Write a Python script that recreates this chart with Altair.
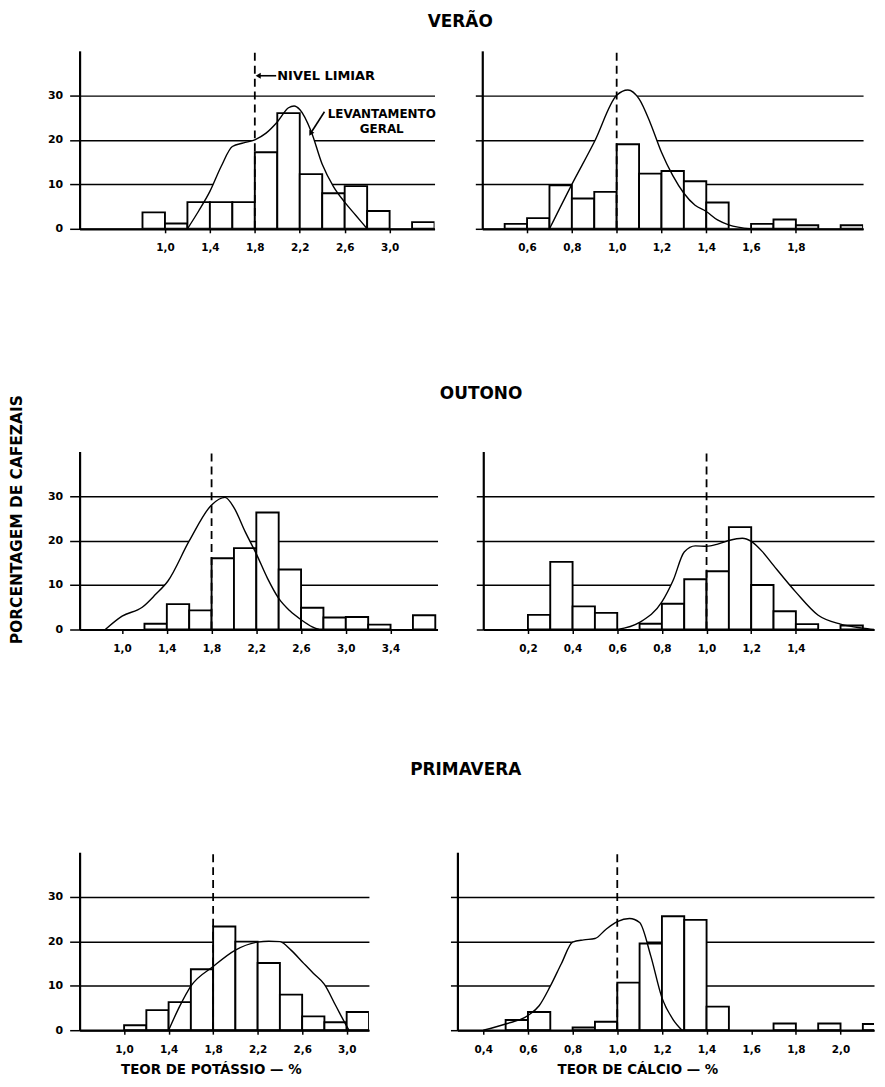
import altair as alt
import pandas as pd

FONT = "DejaVu Sans"

# ---------------- data ----------------
season_titles = ["VERÃO", "OUTONO", "PRIMAVERA"]
y_title = "PORCENTAGEM DE CAFEZAIS"
x_title_k = "TEOR DE POTÁSSIO — %"
x_title_ca = "TEOR DE CÁLCIO — %"
threshold_k = [1.8]
threshold_ca = [1.0]
y_ticks = [0, 10, 20, 30]

# Verão – potássio
v_k_bin = [0.8, 1.0, 1.2, 1.4, 1.6, 1.8, 2.0, 2.2, 2.4, 2.6, 2.8, 3.2]
v_k_pct = [3.7, 1.2, 6.0, 6.0, 6.0, 17.2, 26.0, 12.3, 8.0, 9.6, 4.0, 1.5]
v_k_cx = [1.2, 1.3, 1.4, 1.5, 1.6, 1.7, 1.8, 1.9, 2.0, 2.1, 2.15, 2.2, 2.3, 2.4, 2.5, 2.6, 2.7, 2.8]
v_k_cy = [0, 4, 8.4, 14, 18.5, 19.3, 20, 21.5, 24, 27.2, 27.6, 26.8, 22, 14.5, 9.5, 6, 3, 0]
v_k_ticks = [1.0, 1.4, 1.8, 2.2, 2.6, 3.0]

# Verão – cálcio
v_ca_bin = [0.5, 0.6, 0.7, 0.8, 0.9, 1.0, 1.1, 1.2, 1.3, 1.4, 1.6, 1.7, 1.8, 2.0]
v_ca_pct = [1.1, 2.4, 9.8, 6.8, 8.3, 19.0, 12.4, 13.0, 10.7, 5.9, 1.1, 2.1, 0.8, 0.8]
v_ca_cx = [0.7, 0.8, 0.9, 1.0, 1.05, 1.1, 1.15, 1.2, 1.25, 1.3, 1.35, 1.4, 1.45, 1.5, 1.6]
v_ca_cy = [0, 10, 19.5, 30, 31.2, 29.2, 23.8, 17.2, 12, 8, 5.3, 3.9, 2, 0.9, 0]
v_ca_ticks = [0.6, 0.8, 1.0, 1.2, 1.4, 1.6, 1.8]

# Outono – potássio
o_k_bin = [1.2, 1.4, 1.6, 1.8, 2.0, 2.2, 2.4, 2.6, 2.8, 3.0, 3.2, 3.6]
o_k_pct = [1.3, 5.7, 4.3, 16.0, 18.3, 26.3, 13.5, 4.9, 2.7, 2.8, 1.1, 3.2]
o_k_cx = [0.85, 1.0, 1.18, 1.3, 1.41, 1.6, 1.8, 1.92, 2.0, 2.1, 2.2, 2.3, 2.4, 2.5, 2.6, 2.7, 2.76]
o_k_cy = [0, 3, 5, 7.9, 10.9, 19.9, 28, 29.7, 27.4, 22, 17, 11.5, 7, 4.2, 2.2, 0.6, 0]
o_k_ticks = [1.0, 1.4, 1.8, 2.2, 2.6, 3.0, 3.4]

# Outono – cálcio
o_ca_bin = [0.2, 0.3, 0.4, 0.5, 0.7, 0.8, 0.9, 1.0, 1.1, 1.2, 1.3, 1.4, 1.6]
o_ca_pct = [3.3, 15.2, 5.2, 3.75, 1.3, 5.8, 11.3, 13.1, 23.0, 10.0, 4.1, 1.2, 0.9]
o_ca_cx = [0.6, 0.7, 0.8, 0.85, 0.9, 0.95, 1.0, 1.05, 1.1, 1.16, 1.2, 1.25, 1.3, 1.4, 1.5, 1.6, 1.7, 1.75]
o_ca_cy = [0, 1.6, 6.2, 11, 17.4, 18.8, 18.7, 19.2, 20, 20.5, 19.8, 17.5, 14.4, 8.4, 3.2, 1.2, 0.3, 0]
o_ca_ticks = [0.2, 0.4, 0.6, 0.8, 1.0, 1.2, 1.4]

# Primavera – potássio
p_k_bin = [1.0, 1.2, 1.4, 1.6, 1.8, 2.0, 2.2, 2.4, 2.6, 2.8, 3.0]
p_k_pct = [1.1, 4.5, 6.3, 13.7, 23.3, 19.9, 15.1, 8.0, 3.1, 1.8, 4.1]
p_k_cx = [1.4, 1.5, 1.6, 1.8, 2.0, 2.2, 2.3, 2.4, 2.5, 2.6, 2.7, 2.8, 2.9, 3.0, 3.02]
p_k_cy = [0, 5.4, 9.9, 14.3, 18, 19.8, 20, 19.9, 18, 15.4, 12.8, 10.3, 5.6, 0.9, 0]
p_k_ticks = [1.0, 1.4, 1.8, 2.2, 2.6, 3.0]

# Primavera – cálcio
p_ca_bin = [0.5, 0.6, 0.8, 0.9, 1.0, 1.1, 1.2, 1.3, 1.4, 1.7, 1.9, 2.1]
p_ca_pct = [2.3, 4.1, 0.6, 1.9, 10.7, 19.5, 25.6, 24.8, 5.3, 1.5, 1.5, 1.4]
p_ca_cx = [0.4, 0.5, 0.6, 0.65, 0.7, 0.75, 0.8, 0.85, 0.9, 0.95, 1.0, 1.055, 1.1, 1.15, 1.2, 1.25, 1.29]
p_ca_cy = [0, 1.4, 3.3, 5.5, 9.9, 15, 19.8, 20.3, 20.6, 22.7, 24.4, 25.1, 24.2, 16.7, 7.3, 2.4, 0]
p_ca_ticks = [0.4, 0.6, 0.8, 1.0, 1.2, 1.4, 1.6, 1.8, 2.0]

# annotations (panel Verão – potássio)
ann_text = ["NIVEL LIMIAR", "LEVANTAMENTO", "GERAL"]
ann_x = [2.0, 2.93, 2.93]
ann_y = [34.4, 25.8, 22.4]
arrow1_x = [1.83, 1.99]
arrow1_y = [34.4, 34.4]
arrow2_x = [2.42, 2.3]
arrow2_y = [26.3, 21.6]


def panel(bins, pct, binw, cx, cy, xdom, width, ticks, thr, ylabels,
          xtitle=None, annotate=False, xtitle_x=None):
    bars = pd.DataFrame({"x0": bins, "x1": [round(b + binw, 3) for b in bins], "h": pct})
    curve = pd.DataFrame({"x": cx, "y": cy})
    xs = alt.Scale(domain=xdom, nice=False, zero=False)
    ys = alt.Scale(domain=[0, 40], nice=False)
    xaxis_kw = dict(values=ticks, labelExpr="replace(format(datum.value, '.1f'), '.', ',')",
                    tickSize=4, tickWidth=1.5, domainWidth=2.2, grid=False,
                    labelFontWeight="bold", labelFontSize=10.5, labelPadding=10,
                    labelColor="black", zindex=1)
    if xtitle:
        xaxis_kw.update(title=xtitle, titleFontSize=13.5, titleFontWeight="bold",
                        titlePadding=8, titleColor="black")
        if xtitle_x is not None:
            xaxis_kw.update(titleX=xtitle_x)
    xaxis = alt.Axis(**xaxis_kw)
    if ylabels:
        yaxis = alt.Axis(values=y_ticks, tickSize=10, tickWidth=1.5, domainWidth=2.2,
                         grid=True, gridColor="black", gridWidth=1.4,
                         labelFontWeight="bold", labelFontSize=11, labelPadding=7,
                         labelColor="black", zindex=0)
    else:
        yaxis = alt.Axis(values=y_ticks, tickSize=7, tickWidth=1.5, domainWidth=2.2,
                         grid=True, gridColor="black", gridWidth=1.4, labels=False, zindex=0)
    xt = xtitle if xtitle else None

    area = alt.Chart(curve).mark_area(color="white", interpolate="monotone").encode(
        x=alt.X("x:Q", scale=xs, axis=xaxis, title=xt),
        y=alt.Y("y:Q", scale=ys, axis=yaxis, title=None),
    )
    rects = alt.Chart(bars).mark_rect(fill="white", stroke="black", strokeWidth=1.9,
                                      clip=True).encode(
        x=alt.X("x0:Q", scale=xs, axis=xaxis, title=xt),
        x2="x1:Q",
        y=alt.Y("h:Q", scale=ys, axis=yaxis, title=None),
        y2=alt.datum(0),
    )
    line = alt.Chart(curve).mark_line(color="black", strokeWidth=1.4,
                                      interpolate="monotone").encode(
        x=alt.X("x:Q", scale=xs, axis=xaxis, title=xt),
        y=alt.Y("y:Q", scale=ys, axis=yaxis, title=None),
    )
    rule = alt.Chart(pd.DataFrame({"t": thr})).mark_rule(
        color="black", strokeWidth=1.8, strokeDash=[8, 5]).encode(
        x=alt.X("t:Q", scale=xs, axis=xaxis, title=xt),
        y=alt.datum(0), y2=alt.datum(40),
    )
    layers = [area, rects, line, rule]
    if annotate:
        adf = pd.DataFrame({"x": ann_x, "y": ann_y, "t": ann_text})
        txt_l = alt.Chart(adf.iloc[:1]).mark_text(
            align="left", baseline="middle", font=FONT, fontWeight="bold",
            fontSize=13, color="black").encode(
            x=alt.X("x:Q", scale=xs, axis=xaxis, title=xt),
            y=alt.Y("y:Q", scale=ys, axis=yaxis, title=None), text="t:N")
        txt_c = alt.Chart(adf.iloc[1:]).mark_text(
            align="center", baseline="middle", font=FONT, fontWeight="bold",
            fontSize=12, color="black").encode(
            x=alt.X("x:Q", scale=xs, axis=xaxis, title=xt),
            y=alt.Y("y:Q", scale=ys, axis=yaxis, title=None), text="t:N")
        a1 = pd.DataFrame({"x": arrow1_x[:1], "x2": arrow1_x[1:], "y": arrow1_y[:1]})
        arr1 = alt.Chart(a1).mark_rule(color="black", strokeWidth=1.6).encode(
            x=alt.X("x:Q", scale=xs, axis=xaxis, title=xt), x2="x2:Q",
            y=alt.Y("y:Q", scale=ys, axis=yaxis, title=None))
        head1 = alt.Chart(a1).mark_point(shape="triangle-left", filled=True,
                                         color="black", size=35, opacity=1).encode(
            x=alt.X("x:Q", scale=xs, axis=xaxis, title=xt),
            y=alt.Y("y:Q", scale=ys, axis=yaxis, title=None))
        a2 = pd.DataFrame({"x": arrow2_x[:1], "x2": arrow2_x[1:],
                           "y": arrow2_y[:1], "y2": arrow2_y[1:]})
        arr2 = alt.Chart(a2).mark_rule(color="black", strokeWidth=1.6).encode(
            x=alt.X("x:Q", scale=xs, axis=xaxis, title=xt), x2="x2:Q",
            y=alt.Y("y:Q", scale=ys, axis=yaxis, title=None), y2="y2:Q")
        head2 = alt.Chart(a2).mark_point(shape="triangle", filled=True, angle=210,
                                         color="black", size=35, opacity=1).encode(
            x=alt.X("x2:Q", scale=xs, axis=xaxis, title=xt),
            y=alt.Y("y2:Q", scale=ys, axis=yaxis, title=None))
        layers += [txt_l, txt_c, arr1, head1, arr2, head2]
    return alt.layer(*layers).properties(width=width, height=179)


def row(title, left, right, spacing, offset, dx):
    return alt.hconcat(left, right, spacing=spacing, bounds="flush",
                       title=alt.TitleParams(text=title, anchor="middle", fontSize=17,
                                             fontWeight="bold", font=FONT, offset=offset,
                                             dx=dx, color="black"))


p1 = panel(v_k_bin, v_k_pct, 0.2, v_k_cx, v_k_cy, [0.24, 3.4], 357, v_k_ticks,
           threshold_k, True, annotate=True)
p2 = panel(v_ca_bin, v_ca_pct, 0.1, v_ca_cx, v_ca_cy, [0.4, 2.1], 383, v_ca_ticks,
           threshold_ca, False)
p3 = panel(o_k_bin, o_k_pct, 0.2, o_k_cx, o_k_cy, [0.62, 3.82], 360, o_k_ticks,
           threshold_k, True)
p4 = panel(o_ca_bin, o_ca_pct, 0.1, o_ca_cx, o_ca_cy, [0.0, 1.75], 393, o_ca_ticks,
           threshold_ca, False)
p5 = panel(p_k_bin, p_k_pct, 0.2, p_k_cx, p_k_cy, [0.6, 3.2], 291, p_k_ticks,
           threshold_k, True, xtitle=x_title_k, xtitle_x=132)
p6 = panel(p_ca_bin, p_ca_pct, 0.1, p_ca_cx, p_ca_cy, [0.284, 2.15], 419, p_ca_ticks,
           threshold_ca, False, xtitle=x_title_ca, xtitle_x=181)

r1 = row(season_titles[0], p1, p2, 48, 19, 5)
r2 = row(season_titles[1], p3, p4, 46, 48, 19)
r3 = row(season_titles[2], p5, p6, 89, 73, 5)

chart = alt.vconcat(
    r1, r2, r3, spacing=403, bounds="flush",
    title=alt.TitleParams(text=y_title, orient="left", anchor="middle", fontSize=15.5,
                          fontWeight="bold", font=FONT, offset=22, dx=25, color="black"),
).properties(
    padding={"left": 2, "top": 2, "right": 0, "bottom": 0}
).configure(font=FONT).configure_view(stroke=None).configure_axis(
    domainColor="black", tickColor="black", labelColor="black"
)

chart.save("out.html", embed_options={"renderer": "svg", "actions": False})
